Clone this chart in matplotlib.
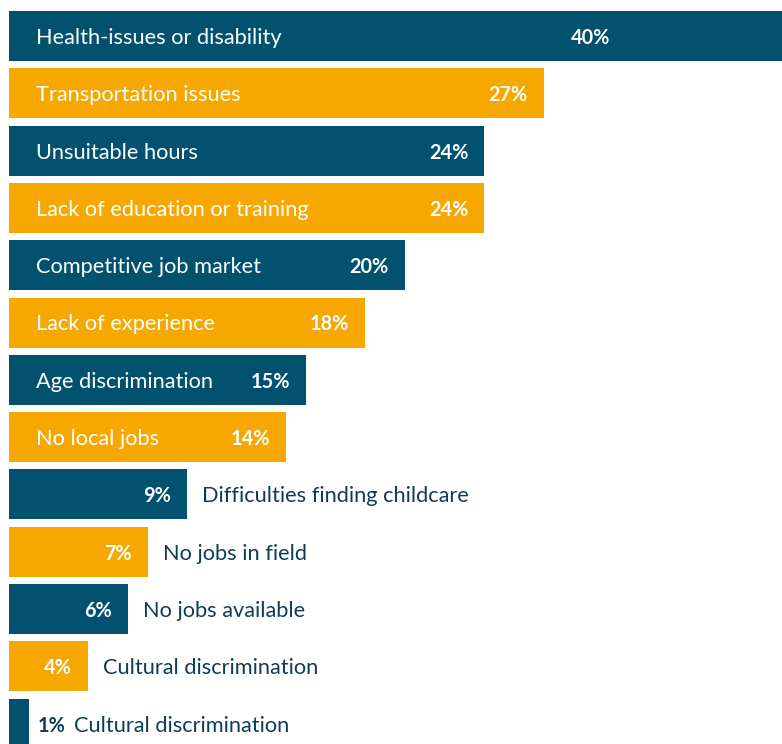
import matplotlib
matplotlib.use("Agg")
import matplotlib.pyplot as plt

# Reasons reported as barriers to finding work (% of respondents)
categories = [
    "Health-issues or disability",
    "Transportation issues",
    "Unsuitable hours",
    "Lack of education or training",
    "Competitive job market",
    "Lack of experience",
    "Age discrimination",
    "No local jobs",
    "Difficulties finding childcare",
    "No jobs in field",
    "No jobs available",
    "Cultural discrimination",
    "Cultural discrimination",
]
values = [40, 27, 24, 24, 20, 18, 15, 14, 9, 7, 6, 4, 1]
value_labels = [f"{v}%" for v in values]

TEAL = "#02516e"
ORANGE = "#f6a800"
DARK_TEXT = "#0f3d54"
FONT = "Lato"
CAT_SIZE = 15.7
VAL_SIZE = 14.3
DY = -2  # nudge text slightly below the bar centre line

W, H, DPI = 782, 744, 100
fig = plt.figure(figsize=(W / DPI, H / DPI), dpi=DPI)
ax = fig.add_axes([0, 0, 1, 1])

px_per_unit = 19.8
left_px = 9
pitch = 57.3
first_center = 36
ax.set_xlim(-left_px / px_per_unit, (W - left_px) / px_per_unit)
ax.set_ylim((H - first_center) / pitch, -first_center / pitch)
ax.axis("off")

ypos = list(range(len(categories)))
colors = [TEAL if i % 2 == 0 else ORANGE for i in ypos]
ax.barh(ypos, values, height=50 / pitch, color=colors, edgecolor="none")

for i, (cat, v, lab) in enumerate(zip(categories, values, value_labels)):
    if v >= 14:
        ax.annotate(cat, (0, i), xytext=(27, DY), textcoords="offset pixels",
                    ha="left", va="center", color="white", fontsize=CAT_SIZE,
                    family=FONT)
        anchor = min(v, 31.15)
        ax.annotate(lab, (anchor, i), xytext=(-16, DY), textcoords="offset pixels",
                    ha="right", va="center", color="white", fontsize=VAL_SIZE,
                    fontweight="bold", family=FONT)
    elif v >= 3:
        ax.annotate(lab, (v, i), xytext=(-16, DY), textcoords="offset pixels",
                    ha="right", va="center", color="white", fontsize=VAL_SIZE,
                    fontweight="bold", family=FONT)
        ax.annotate(cat, (v, i), xytext=(15, DY), textcoords="offset pixels",
                    ha="left", va="center", color=DARK_TEXT, fontsize=CAT_SIZE,
                    family=FONT)
    else:
        ax.annotate(lab, (v, i), xytext=(9, DY), textcoords="offset pixels",
                    ha="left", va="center", color=DARK_TEXT, fontsize=VAL_SIZE,
                    fontweight="bold", family=FONT)
        ax.annotate(cat, (v, i), xytext=(45, DY), textcoords="offset pixels",
                    ha="left", va="center", color=DARK_TEXT, fontsize=CAT_SIZE,
                    family=FONT)

fig.savefig("out.png", dpi=DPI)
